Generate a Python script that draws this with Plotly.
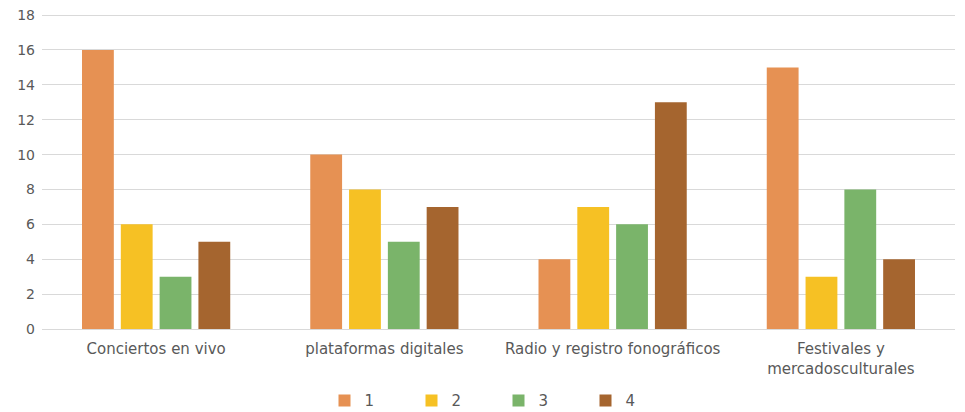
import plotly.graph_objects as go

categories = ["Conciertos en vivo", "plataformas digitales", "Radio y registro fonográficos", "Festivales y<br>mercadosculturales"]
series_names = ["1", "2", "3", "4"]
s1 = [16, 10, 4, 15]
s2 = [6, 8, 7, 3]
s3 = [3, 5, 6, 8]
s4 = [5, 7, 13, 4]
y_ticks = [0, 2, 4, 6, 8, 10, 12, 14, 16, 18]
colors = ["#E69153", "#F6C124", "#7AB46A", "#A5652F"]

fig = go.Figure()
for name, vals, c in zip(series_names, [s1, s2, s3, s4], colors):
    fig.add_trace(go.Bar(x=categories, y=vals, name=name, marker_color=c,
                         marker_line_width=0))

font_family = "DejaVu Sans"
fig.update_layout(
    width=965, height=412,
    margin=dict(l=42, r=10, t=13, b=83, autoexpand=False),
    paper_bgcolor="white", plot_bgcolor="white",
    barmode="group", bargap=0.32, bargroupgap=0.18,
    font=dict(family=font_family, size=14, color="#595959"),
    yaxis=dict(range=[0, 18.12], tickmode="array", tickvals=y_ticks,
               gridcolor="#D9D9D9", gridwidth=1,
               zeroline=True, zerolinecolor="#D9D9D9", zerolinewidth=1,
               ticks="", automargin=False, ticklabelstandoff=6,
               tickfont=dict(size=14, color="#595959")),
    xaxis=dict(showline=False, ticks="", automargin=False, ticklabelstandoff=9,
               tickfont=dict(size=15, color="#595959")),
    legend=dict(orientation="h", x=0.5, xanchor="center", y=-0.175, yanchor="top",
                font=dict(size=15, color="#595959"), entrywidth=42, itemwidth=30),
    showlegend=True,
)
fig.write_html("out.html", config={"displayModeBar": False},
               post_script="document.body.style.margin='0';document.body.style.overflow='hidden';")
